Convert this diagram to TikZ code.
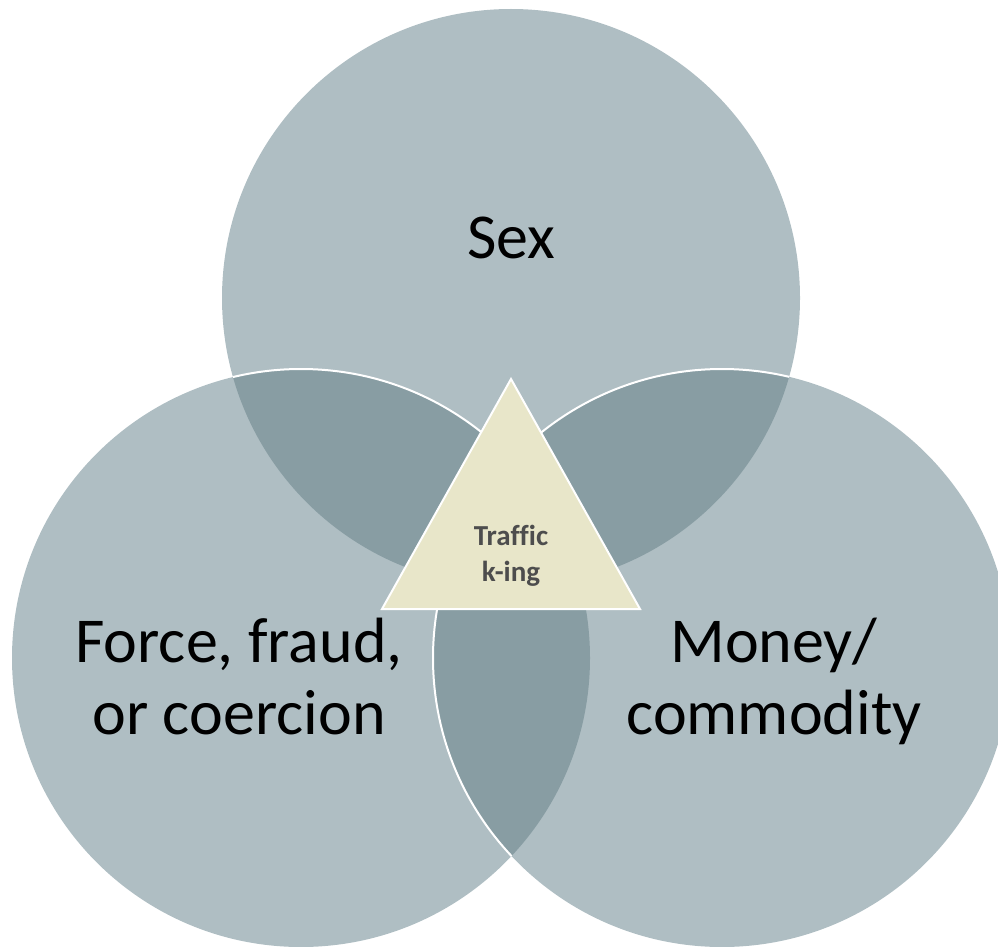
\documentclass[tikz,border=0pt]{standalone}
\usepackage{fontspec}
\setmainfont{Carlito}[Ligatures=CommonOff]
\definecolor{vlight}{HTML}{AFBEC3}
\definecolor{vdark}{HTML}{889DA3}
\definecolor{trifill}{HTML}{E8E6C9}
\definecolor{tritext}{HTML}{4D4D4D}
\tikzset{
  outline/.style={draw=white, line width=2pt},
  biglabel/.style={anchor=base, inner sep=0pt, text=black, font=\fontsize{64}{72}\selectfont},
  smalllabel/.style={anchor=base, inner sep=0pt, text=tritext, font=\fontsize{29}{36}\selectfont\bfseries},
}
\begin{document}
\begin{tikzpicture}[x=1pt,y=-1pt]
\useasboundingbox (0,0) rectangle (998,947);
\clip (0,0) rectangle (998,947);
\coordinate (cT) at (511,298);
\coordinate (cL) at (301,658);
\coordinate (cR) at (722,658);
% circles
\fill[vlight] (cT) circle (289pt);
\fill[vlight] (cL) circle (289pt);
\fill[vlight] (cR) circle (289pt);
% overlaps
\begin{scope}
  \clip (cT) circle (289pt);
  \fill[vdark] (cL) circle (289pt);
  \fill[vdark] (cR) circle (289pt);
\end{scope}
\begin{scope}
  \clip (cL) circle (289pt);
  \fill[vdark] (cR) circle (289pt);
\end{scope}
% visible white outlines
\begin{scope}
  \clip (cT) circle (289pt);
  \draw[outline] (cL) circle (289pt);
  \draw[outline] (cR) circle (289pt);
\end{scope}
\begin{scope}
  \clip (cL) circle (289pt);
  \draw[outline] (cR) circle (289pt);
\end{scope}
% triangle
\coordinate (tA) at (511,379);
\coordinate (tB) at (640,609);
\coordinate (tC) at (382,609);
\draw[outline, fill=trifill, line join=miter] (tA) -- (tB) -- (tC) -- cycle;
% labels
\node[biglabel] (sex) at (511,258) {Sex};
\node[biglabel] (force) at (239,662) {\begin{tabular}[t]{@{}c@{}}Force, fraud,\\or coercion\end{tabular}};
\node[biglabel] (money) at (774,662) {\begin{tabular}[t]{@{}c@{}}Money/\\commodity\end{tabular}};
\node[smalllabel] (traf) at (511,545) {\begin{tabular}[t]{@{}c@{}}Traffic\\k-ing\end{tabular}};
\end{tikzpicture}
\end{document}
